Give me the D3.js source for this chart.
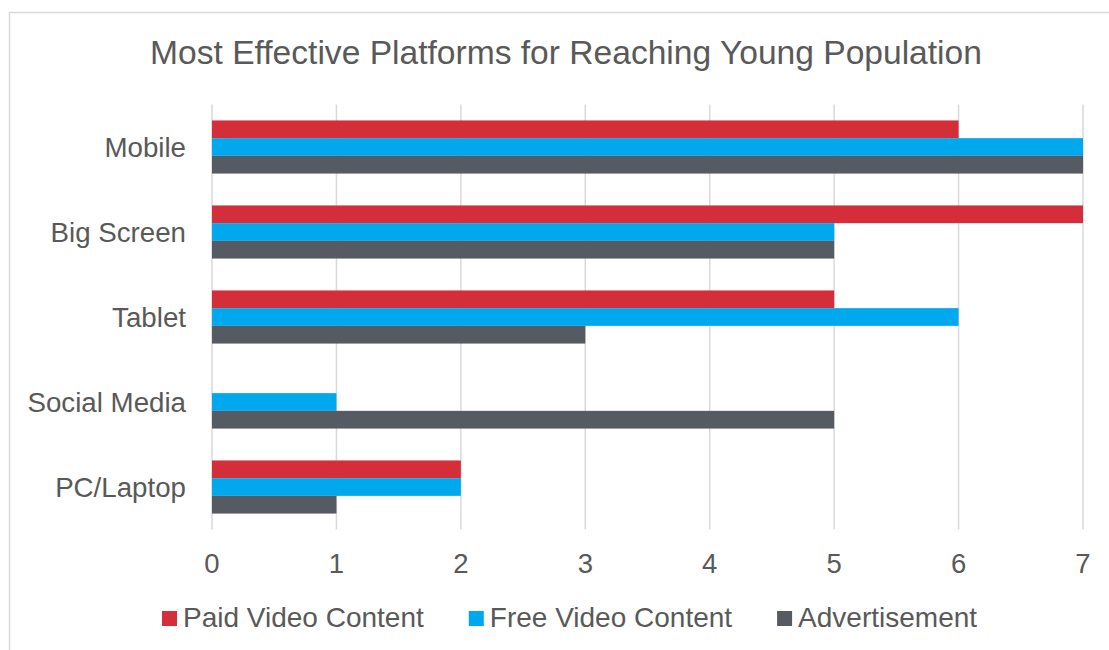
<!DOCTYPE html>
<html>
<head>
<meta charset="utf-8">
<script src="https://cdn.jsdelivr.net/npm/d3@7"></script>
<style>
  html, body { margin: 0; padding: 0; background: #fff; }
  svg { display: block; font-family: "Liberation Sans", Arial, sans-serif; }
</style>
</head>
<body>
<svg id="chart" width="1109" height="650"></svg>
<script>
// Platforms, top to bottom
const categories = ["Mobile", "Big Screen", "Tablet", "Social Media", "PC/Laptop"];
// Series names and their values per platform (same order as categories)
const seriesNames = ["Paid Video Content", "Free Video Content", "Advertisement"];
const paidVideo   = [6, 7, 5, 0, 2];
const freeVideo   = [7, 5, 6, 1, 2];
const advertising = [7, 5, 3, 5, 1];
const xTicks = [0, 1, 2, 3, 4, 5, 6, 7];
const titleText = "Most Effective Platforms for Reaching Young Population";

const seriesValues = [paidVideo, freeVideo, advertising];
const colors = ["#D42E3B", "#00A8EE", "#555A63"];
const textColor = "#595959";
const gridColor = "#D9D9D9";

const svg = d3.select("#chart");

// chart frame
svg.append("rect")
  .attr("x", 9.5).attr("y", 12.5)
  .attr("width", 1140).attr("height", 680)
  .attr("fill", "#fff")
  .attr("stroke", gridColor)
  .attr("stroke-width", 1.5);

// title
svg.append("text")
  .attr("x", 566).attr("y", 64)
  .attr("text-anchor", "middle")
  .attr("fill", textColor)
  .style("font-size", "33.6px")
  .text(titleText);

const plot = { left: 212, right: 1083, top: 104.5, bottom: 529.5 };

const x = d3.scaleLinear().domain([0, 7]).range([plot.left, plot.right]);
const y0 = d3.scaleBand().domain(categories).range([plot.top, plot.bottom]).paddingInner(0).paddingOuter(0);
const y1 = d3.scaleBand().domain(seriesNames).range([0, y0.bandwidth()]).paddingInner(0).paddingOuter(0.9);

// vertical gridlines
svg.append("g").selectAll("line")
  .data(xTicks)
  .join("line")
  .attr("x1", d => x(d)).attr("x2", d => x(d))
  .attr("y1", plot.top).attr("y2", plot.bottom)
  .attr("stroke", gridColor)
  .attr("stroke-width", 1.5);

// bars
const rows = categories.map((c, i) => ({
  category: c,
  values: seriesNames.map((s, j) => ({ series: s, idx: j, value: seriesValues[j][i] }))
}));

svg.append("g").selectAll("g")
  .data(rows)
  .join("g")
  .attr("transform", d => `translate(0,${y0(d.category)})`)
  .selectAll("rect")
  .data(d => d.values.filter(v => v.value > 0))
  .join("rect")
  .attr("x", x(0))
  .attr("y", d => y1(d.series))
  .attr("width", d => x(d.value) - x(0))
  .attr("height", y1.bandwidth())
  .attr("fill", d => colors[d.idx]);

// category labels
svg.append("g").selectAll("text")
  .data(categories)
  .join("text")
  .attr("x", 186)
  .attr("y", d => y0(d) + y0.bandwidth() / 2 + 10)
  .attr("text-anchor", "end")
  .attr("fill", textColor)
  .style("font-size", "27.7px")
  .text(d => d);

// x tick labels
svg.append("g").selectAll("text")
  .data(xTicks)
  .join("text")
  .attr("x", d => x(d))
  .attr("y", 573)
  .attr("text-anchor", "middle")
  .attr("fill", textColor)
  .style("font-size", "27.5px")
  .text(d => d);

// legend
const legend = svg.append("g");
const items = legend.selectAll("g")
  .data(seriesNames)
  .join("g");
items.append("rect")
  .attr("width", 15).attr("height", 15)
  .attr("y", 611)
  .attr("fill", (d, i) => colors[i]);
items.append("text")
  .attr("x", 21).attr("y", 627)
  .attr("fill", textColor)
  .style("font-size", "28px")
  .text(d => d);

let cursor = 0;
const gap = 45;
items.each(function () {
  const g = d3.select(this);
  g.attr("transform", `translate(${cursor},0)`);
  cursor += 21 + g.select("text").node().getComputedTextLength() + gap;
});
const total = cursor - gap;
legend.attr("transform", `translate(${Math.round(569.5 - total / 2)},0)`);
</script>
</body>
</html>
